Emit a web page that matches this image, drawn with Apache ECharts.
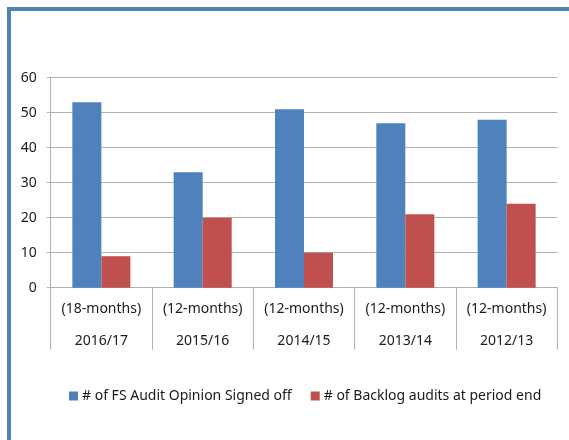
<!DOCTYPE html>
<html>
<head>
<meta charset="utf-8">
<script src="https://cdn.jsdelivr.net/npm/echarts@6/dist/echarts.min.js"></script>
<style>
  html, body { margin: 0; padding: 0; background: #fff; }
  #wrap { position: relative; width: 569px; height: 440px; overflow: hidden; }
  #frame { position: absolute; left: 7px; top: 7px; width: 600px; height: 500px;
           border-left: 4px solid #4F81BD; border-top: 4px solid #4F81BD; }
  #main { position: absolute; left: 0; top: 0; width: 569px; height: 440px; }
</style>
</head>
<body>
<div id="wrap">
  <div id="frame"></div>
  <div id="main"></div>
</div>
<script>
// data
var periods = ['(18-months)', '(12-months)', '(12-months)', '(12-months)', '(12-months)'];
var years = ['2016/17', '2015/16', '2014/15', '2013/14', '2012/13'];
var signedOff = [53, 33, 51, 47, 48];
var backlog = [9, 20, 10, 21, 24];
var seriesNames = ['# of FS Audit Opinion Signed off', '# of Backlog audits at period end'];

var categories = years.map(function (y, i) { return periods[i] + '\n' + y; });

var font = 'Noto Sans';
var textColor = '#1a1a1a';
var lineColor = '#b0b0b0';

var chart = echarts.init(document.getElementById('main'));
chart.setOption({
  animation: false,
  backgroundColor: 'transparent',
  grid: { left: 50.7, right: 11.7, top: 77.7, bottom: 152.3, containLabel: false },
  legend: {
    left: 64,
    top: 384,
    itemWidth: 9,
    itemHeight: 9,
    itemGap: 19,
    icon: 'rect',
    textStyle: { fontFamily: font, fontSize: 14, color: textColor, padding: [0, 0, 0, -1] },
    data: seriesNames
  },
  xAxis: {
    type: 'category',
    data: categories,
    axisLine: { lineStyle: { color: lineColor, width: 1 } },
    axisTick: { show: true, interval: 0, length: 62, alignWithLabel: false, lineStyle: { color: lineColor } },
    axisLabel: {
      interval: 0,
      margin: 5,
      fontFamily: font,
      fontSize: 14,
      lineHeight: 32,
      color: textColor
    }
  },
  yAxis: {
    type: 'value',
    min: 0,
    max: 60,
    interval: 10,
    axisLine: { show: true, lineStyle: { color: lineColor } },
    axisTick: { show: true, length: 4, lineStyle: { color: lineColor } },
    splitLine: { lineStyle: { color: lineColor } },
    axisLabel: { margin: 14, fontFamily: font, fontSize: 14, color: textColor }
  },
  series: [
    {
      name: seriesNames[0],
      type: 'bar',
      data: signedOff,
      barWidth: 29,
      barGap: '0%',
      itemStyle: { color: '#4F81BD' }
    },
    {
      name: seriesNames[1],
      type: 'bar',
      data: backlog,
      barWidth: 29,
      barGap: '0%',
      itemStyle: { color: '#C0504D' }
    }
  ]
});
</script>
</body>
</html>
